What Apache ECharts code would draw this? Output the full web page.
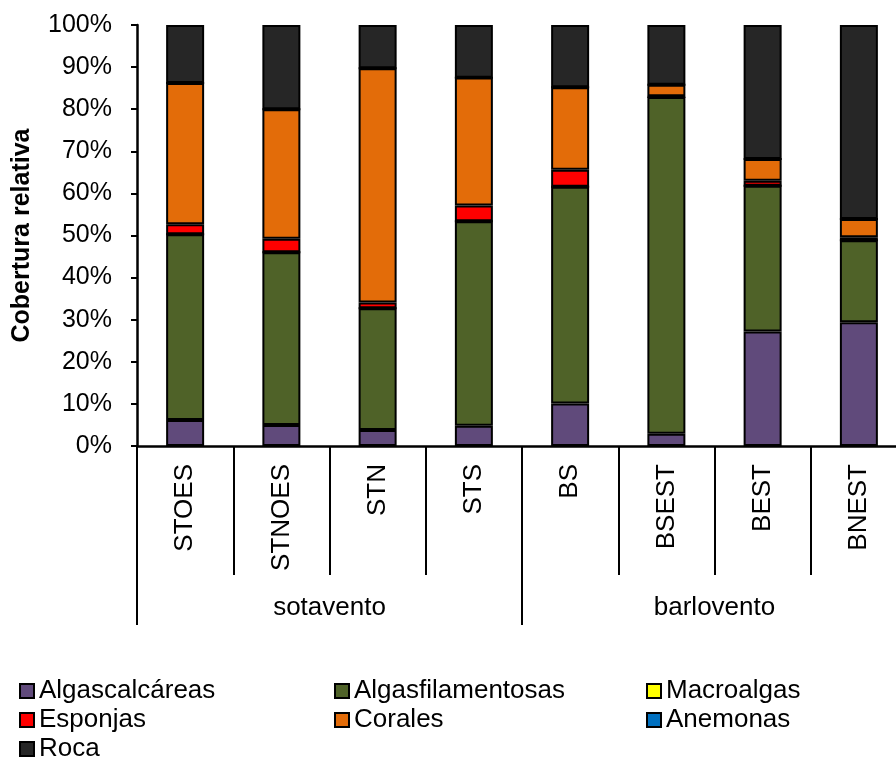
<!DOCTYPE html>
<html>
<head>
<meta charset="utf-8">
<script src="https://cdn.jsdelivr.net/npm/echarts@6/dist/echarts.min.js"></script>
<style>
  html, body { margin: 0; padding: 0; background: #ffffff; }
  #chart { width: 896px; height: 759px; }
</style>
</head>
<body>
<div id="chart"></div>
<script>
// Sites, grouped by exposure
const sites = ['STOES', 'STNOES', 'STN', 'STS', 'BS', 'BSEST', 'BEST', 'BNEST'];
const groups = ['sotavento', 'barlovento'];
const yTicks = ['0%', '10%', '20%', '30%', '40%', '50%', '60%', '70%', '80%', '90%', '100%'];

// Relative cover (%) per category
const algasCalcareas     = [6.2, 5.0, 3.8, 4.8, 10.1, 2.9, 27.2, 29.4];
const algasFilamentosas  = [44.1, 41.0, 28.9, 48.6, 51.5, 80.0, 34.6, 19.5];
const macroalgas         = [0, 0, 0, 0, 0, 0, 0, 0];
const esponjas           = [2.4, 3.2, 1.4, 3.7, 4.0, 0.2, 1.2, 0.7];
const corales            = [33.5, 30.8, 55.6, 30.4, 19.6, 2.7, 5.2, 4.3];
const anemonas           = [0, 0, 0, 0, 0, 0, 0, 0];
const roca               = [13.8, 20.0, 10.3, 12.5, 14.8, 14.2, 31.8, 46.1];

const FONT = '"Liberation Sans", Arial, sans-serif';

const seriesDefs = [
  { name: 'Algascalcáreas', data: algasCalcareas, color: '#604A7B' },
  { name: 'Algasfilamentosas', data: algasFilamentosas, color: '#4F6228' },
  { name: 'Macroalgas', data: macroalgas, color: '#FFFF00' },
  { name: 'Esponjas', data: esponjas, color: '#FF0000' },
  { name: 'Corales', data: corales, color: '#E36C09' },
  { name: 'Anemonas', data: anemonas, color: '#0070C0' },
  { name: 'Roca', data: roca, color: '#262626' }
];

const legendText = { fontFamily: FONT, fontSize: 26, color: '#000', lineHeight: 26 };
function legendCol(names, left) {
  return {
    orient: 'vertical', left: left, top: 678, height: 120, padding: 0,
    itemWidth: 14, itemHeight: 14, itemGap: 3,
    icon: 'rect', selectedMode: false,
    textStyle: legendText,
    data: names
  };
}

const chart = echarts.init(document.getElementById('chart'), null, { renderer: 'canvas' });
chart.setOption({
  animation: false,
  backgroundColor: '#ffffff',
  grid: { left: 137, top: 25, width: 770, height: 421, containLabel: false, outerBoundsMode: 'none' },
  legend: [
    legendCol(['Algascalcáreas', 'Esponjas', 'Roca'], 19),
    legendCol(['Algasfilamentosas', 'Corales'], 334),
    legendCol(['Macroalgas', 'Anemonas'], 646)
  ],
  xAxis: [
    {
      type: 'category', data: sites, position: 'bottom',
      axisLine: { show: true, lineStyle: { color: '#000', width: 2.5 } },
      axisTick: { show: true, interval: 0, length: 129, lineStyle: { color: '#000', width: 2 } },
      axisLabel: { interval: 0, rotate: 90, margin: 18, fontFamily: FONT, fontSize: 26, color: '#000' }
    },
    {
      type: 'category', data: groups, position: 'bottom',
      axisLine: { show: false },
      axisTick: { show: true, interval: 0, length: 179, lineStyle: { color: '#000', width: 2 } },
      axisLabel: { interval: 0, margin: 149, fontFamily: FONT, fontSize: 26, color: '#000' }
    }
  ],
  yAxis: {
    type: 'value', min: 0, max: 100, interval: 10,
    name: 'Cobertura relativa', nameLocation: 'middle', nameGap: 102, nameRotate: 90,
    nameTextStyle: { fontFamily: FONT, fontSize: 25, fontWeight: 'bold', color: '#000' },
    axisLine: { show: true, lineStyle: { color: '#000', width: 2.5 } },
    axisTick: { show: true, length: 6, lineStyle: { color: '#000', width: 2 } },
    splitLine: { show: false },
    axisLabel: {
      margin: 25, fontFamily: FONT, fontSize: 25, color: '#000',
      formatter: function (v) { return yTicks[Math.round(v / 10)]; }
    }
  },
  series: seriesDefs.map(function (s) {
    return {
      name: s.name, type: 'bar', stack: 'total', xAxisIndex: 0,
      barWidth: 38, data: s.data,
      itemStyle: { color: s.color, borderColor: '#000', borderWidth: 2 }
    };
  })
});
</script>
</body>
</html>
